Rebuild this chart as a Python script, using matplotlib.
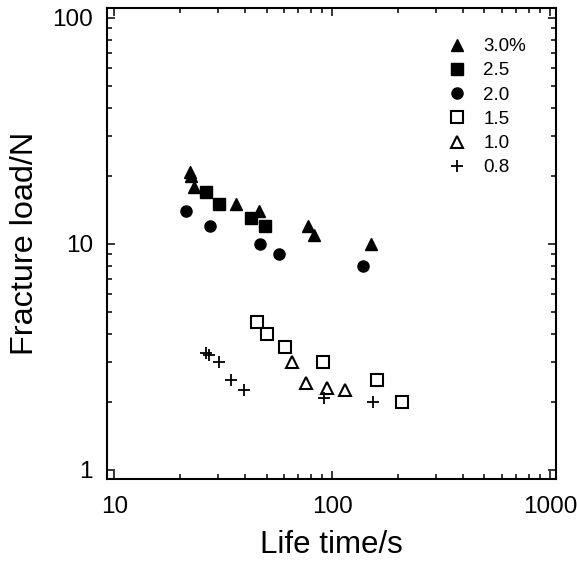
import numpy as np
import matplotlib.pyplot as plt
from matplotlib.ticker import LogLocator, NullFormatter, FixedLocator

plt.rcParams['font.family'] = ['Liberation Sans', 'DejaVu Sans']

# data (life time in s, fracture load in N)
x_30 = [22.2, 22.4, 23.3, 36.4, 46.4, 77.4, 82.8, 150.3]
y_30 = [20.9, 20.0, 17.9, 15.0, 14.0, 12.0, 11.0, 10.0]

x_25 = [26.3, 30.4, 42.5, 49.1]
y_25 = [16.9, 15.0, 13.0, 12.0]

x_20 = [21.4, 27.4, 46.9, 56.9, 138.0]
y_20 = [14.0, 12.0, 10.0, 9.0, 8.0]

x_15 = [45.3, 50.4, 60.7, 90.7, 160.2, 210.0]
y_15 = [4.5, 4.0, 3.5, 3.0, 2.5, 2.0]

x_10 = [65.3, 75.5, 95.0, 114.5]
y_10 = [3.0, 2.42, 2.31, 2.26]

x_08 = [26.4, 27.1, 30.4, 34.2, 39.5, 91.7, 154.7]
y_08 = [3.28, 3.23, 3.0, 2.5, 2.26, 2.09, 1.99]

labels = ['3.0%', '2.5', '2.0', '1.5', '1.0', '0.8']

fig = plt.figure(figsize=(5.77, 5.63), dpi=100)
ax = fig.add_axes([0.1854, 0.1492, 0.7782, 0.8366])

ax.plot(x_30, y_30, '^', color='black', ms=8.5, ls='none', label=labels[0])
ax.plot(x_25, y_25, 's', color='black', ms=8.5, ls='none', label=labels[1])
ax.plot(x_20, y_20, 'o', color='black', ms=8, ls='none', label=labels[2])
ax.plot(x_15, y_15, 's', mfc='white', mec='black', mew=1.5, ms=8, ls='none', label=labels[3])
ax.plot(x_10, y_10, '^', mfc='white', mec='black', mew=1.5, ms=8, ls='none', label=labels[4])
ax.plot(x_08, y_08, '+', color='black', mew=1.3, ms=9, ls='none', label=labels[5])

ax.set_xscale('log')
ax.set_yscale('log')
ax.set_xlim(9.26, 1066)
ax.set_ylim(0.912, 110.7)

ax.xaxis.set_major_locator(FixedLocator([10, 100, 1000]))
ax.yaxis.set_major_locator(FixedLocator([1, 10, 100]))
ax.set_xticklabels(['10', '100', '1000'])
ax.set_yticklabels(['1', '10', '100'])
ax.xaxis.set_minor_locator(LogLocator(base=10, subs=np.arange(2, 10)))
ax.yaxis.set_minor_locator(LogLocator(base=10, subs=np.arange(2, 10)))
ax.xaxis.set_minor_formatter(NullFormatter())
ax.yaxis.set_minor_formatter(NullFormatter())

ax.tick_params(which='both', direction='in', top=True, right=True, width=1.1)
ax.tick_params(which='major', length=6, labelsize=17.5)
ax.tick_params(which='minor', length=3.6)
ax.tick_params(axis='x', which='major', pad=12)
ax.tick_params(axis='y', which='major', pad=10)

for spine in ax.spines.values():
    spine.set_linewidth(1.5)

ax.set_xlabel('Life time/s', fontsize=22.5, labelpad=9)
ax.set_ylabel('Fracture load/N', fontsize=23.3, labelpad=9)

ax.legend(loc='upper right', bbox_to_anchor=(0.95, 0.952), frameon=False,
          fontsize=13.5, handletextpad=0.4, labelspacing=0.38, borderaxespad=0)

fig.savefig('out.png', dpi=100)
